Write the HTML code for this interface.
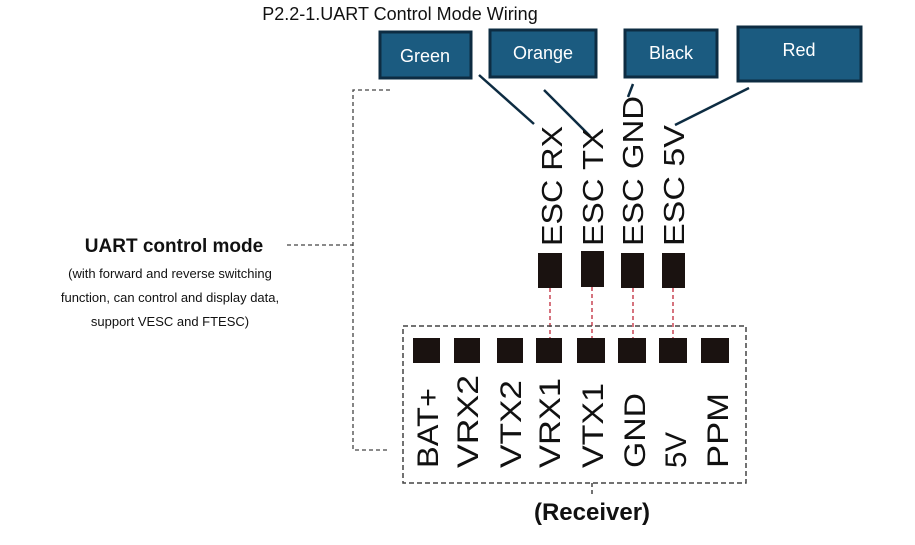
<!DOCTYPE html>
<html><head><meta charset="utf-8"><style>
html,body{margin:0;padding:0;background:#fff;}
svg{display:block;}
text{font-family:"Liberation Sans",sans-serif;}
</style></head><body>
<svg width="915" height="545" viewBox="0 0 915 545" xmlns="http://www.w3.org/2000/svg">
<text x="400" y="20" font-size="18" text-anchor="middle" fill="#111">P2.2-1.UART Control Mode Wiring</text>

<g fill="#1b5b80" stroke="#0d2c42" stroke-width="3">
<rect x="380" y="32" width="91" height="46"/>
<rect x="490" y="30" width="106" height="47"/>
<rect x="625" y="30" width="92" height="47"/>
<rect x="738" y="27" width="123" height="54"/>
</g>
<g fill="#fff" font-size="18" text-anchor="middle">
<text x="425" y="62">Green</text>
<text x="543" y="59">Orange</text>
<text x="671" y="59">Black</text>
<text x="799" y="56">Red</text>
</g>
<g stroke="#0d2c42" stroke-width="2.5">
<line x1="479" y1="75" x2="534" y2="124"/>
<line x1="544" y1="90" x2="590" y2="136"/>
<line x1="633" y1="84" x2="628" y2="97"/>
<line x1="749" y1="88" x2="675" y2="125"/>
</g>

<g font-size="29" fill="#111">
<text transform="translate(562,246) rotate(-90)" textLength="120" lengthAdjust="spacingAndGlyphs">ESC RX</text>
<text transform="translate(603,246) rotate(-90)" textLength="118" lengthAdjust="spacingAndGlyphs">ESC TX</text>
<text transform="translate(643,246) rotate(-90)" textLength="150" lengthAdjust="spacingAndGlyphs">ESC GND</text>
<text transform="translate(684,246) rotate(-90)" textLength="121" lengthAdjust="spacingAndGlyphs">ESC 5V</text>
</g>
<g fill="#1a1210">
<rect x="538" y="253" width="24" height="35"/>
<rect x="581" y="251" width="23" height="36"/>
<rect x="621" y="253" width="23" height="35"/>
<rect x="662" y="253" width="23" height="35"/>
</g>
<g stroke="#c0283a" stroke-width="1.3" stroke-dasharray="4,3">
<line x1="550" y1="288" x2="550" y2="338"/>
<line x1="592" y1="287" x2="592" y2="338"/>
<line x1="633" y1="288" x2="633" y2="338"/>
<line x1="673" y1="288" x2="673" y2="338"/>
</g>

<rect x="403" y="326" width="343" height="157" fill="none" stroke="#444" stroke-width="1.5" stroke-dasharray="5,3"/>
<g fill="#1a1210">
<rect x="413" y="338" width="27" height="25"/>
<rect x="454" y="338" width="26" height="25"/>
<rect x="497" y="338" width="26" height="25"/>
<rect x="536" y="338" width="26" height="25"/>
<rect x="577" y="338" width="28" height="25"/>
<rect x="618" y="338" width="28" height="25"/>
<rect x="659" y="338" width="28" height="25"/>
<rect x="701" y="338" width="28" height="25"/>
</g>
<g font-size="30" fill="#111">
<text transform="translate(438,468) rotate(-90)" textLength="80" lengthAdjust="spacingAndGlyphs">BAT+</text>
<text transform="translate(478,468) rotate(-90)" textLength="93" lengthAdjust="spacingAndGlyphs">VRX2</text>
<text transform="translate(521,468) rotate(-90)" textLength="88" lengthAdjust="spacingAndGlyphs">VTX2</text>
<text transform="translate(560,468) rotate(-90)" textLength="90" lengthAdjust="spacingAndGlyphs">VRX1</text>
<text transform="translate(603,468) rotate(-90)" textLength="85" lengthAdjust="spacingAndGlyphs">VTX1</text>
<text transform="translate(645,468) rotate(-90)" textLength="75" lengthAdjust="spacingAndGlyphs">GND</text>
<text transform="translate(686,468) rotate(-90)" textLength="36" lengthAdjust="spacingAndGlyphs">5V</text>
<text transform="translate(728,468) rotate(-90)" textLength="75" lengthAdjust="spacingAndGlyphs">PPM</text>
</g>
<line x1="592" y1="483" x2="592" y2="497" stroke="#444" stroke-width="1.5" stroke-dasharray="4,3"/>
<text x="592" y="520" font-size="24" font-weight="bold" text-anchor="middle" fill="#111">(Receiver)</text>

<g stroke="#444" stroke-width="1.3" stroke-dasharray="4,3" fill="none">
<polyline points="390,90 353,90 353,450 390,450"/>
<line x1="287" y1="245" x2="353" y2="245"/>
</g>
<text x="174" y="252" font-size="19" font-weight="bold" text-anchor="middle" fill="#111">UART control mode</text>
<g font-size="13" text-anchor="middle" fill="#111">
<text x="170" y="278">(with forward and reverse switching</text>
<text x="170" y="302">function, can control and display data,</text>
<text x="170" y="326">support VESC and FTESC)</text>
</g>
</svg>
</body></html>
